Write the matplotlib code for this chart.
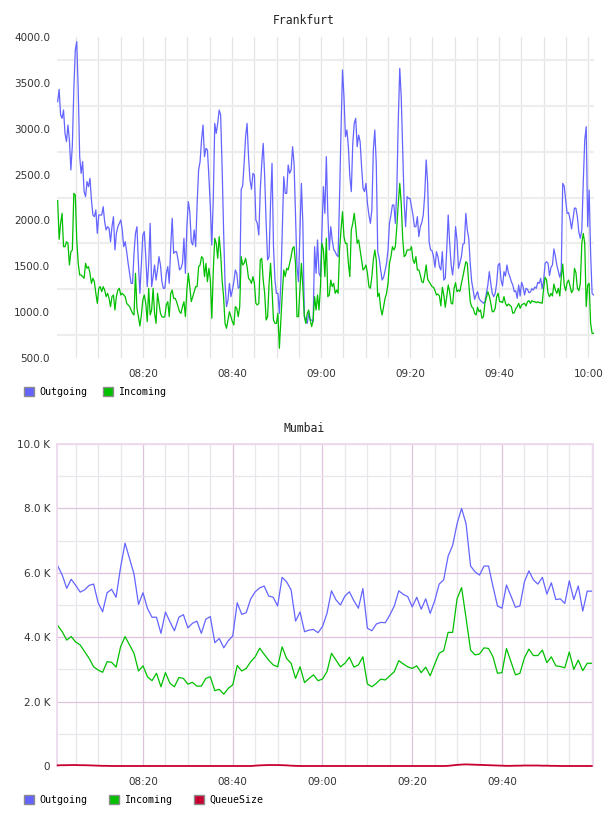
import numpy as np
import pandas as pd
import matplotlib
matplotlib.use("Agg")
import matplotlib.pyplot as plt
import matplotlib.dates as mdates
from matplotlib.patches import Patch
from matplotlib.ticker import FuncFormatter, MultipleLocator, FixedLocator

BLUE = "#6464ff"
GREEN = "#00c000"
RED = "#c80032"

# Frankfurt, ~20 s samples from 08:00:52 to 10:01:11
fra_out = [
    3295, 3429, 3149, 3113, 3204, 2949, 2859, 3040, 2877, 2550,
    2822, 3422, 3858, 3949, 3422, 2695, 2513, 2641, 2314, 2259,
    2423, 2368, 2459, 2223, 2059, 2041, 2114, 1859, 2059, 2059,
    2059, 2150, 1986, 1896, 1932, 1914, 1768, 1932, 2041, 1678,
    1859, 1932, 1968, 2005, 1896, 1714, 1768, 1659, 1532, 1423,
    1314, 1314, 1641, 1859, 1932, 1532, 1205, 1532, 1841, 1877,
    1605, 1278, 1532, 1968, 1278, 1387, 1514, 1350, 1460, 1605,
    1514, 1332, 1260, 1260, 1423, 1496, 1314, 1714, 2023, 1641,
    1659, 1659, 1569, 1460, 1478, 1532, 1805, 1423, 1932, 2205,
    2095, 1768, 1732, 1896, 1714, 2186, 2550, 2641, 2877, 3040,
    2695, 2786, 2768, 2477, 2150, 1732, 2241, 3058, 2949, 3058,
    3204, 3149, 2586, 1896, 1314, 1060, 1132, 1314, 1169, 1241,
    1332, 1460, 1423, 1260,
    1278, 2339, 2375, 2622, 2913, 3058, 2695, 2441, 2339, 2513,
    2495, 2005, 1968, 1841, 2332, 2622, 2840, 2477, 1968, 1569,
    1605, 2186, 2622, 1714, 1350, 1205, 1205, 987, 1314, 1896,
    2477, 2295, 2295, 2604, 2513, 2550, 2804, 2622, 2041, 1496,
    1332, 1859, 2404, 1968, 969, 896, 878, 987, 914, 914,
    896, 1714, 1423, 1787, 1423, 1387, 1896, 2368, 2077, 2695,
    2077, 1678, 1932, 1787, 1685, 1659, 1623, 1605, 2259, 2986,
    3640, 3349, 2913, 2986, 2804, 2477, 2314, 2840, 3058, 3113,
    2804, 2931, 2859, 2586, 2350, 2314, 2404, 2186, 2059, 1968,
    2114, 2768, 2986, 2622, 1659, 1587, 1460, 1350, 1380, 1452,
    1532, 1678, 1968, 2059, 2168, 2168, 1968, 2332, 3095, 3658,
    3349, 2768, 2186, 1932, 2259, 2241, 2241, 2150, 2059, 1932,
    1932, 2041,
    1823, 1932, 1976, 2059, 2277, 2659, 2404, 1768, 1678, 1670,
    1605, 1489, 1659, 1605, 1496, 1460, 1659, 1350, 1369, 1678,
    2059, 1750, 1514, 1405, 1569, 1932, 1787, 1478, 1540, 1605,
    1743, 1750, 2077, 1896, 1805, 1532, 1332, 1241, 1140, 1187,
    1223, 1151, 1125, 1114, 1096, 1114, 1205, 1296, 1441, 1314,
    1205, 1169, 1205, 1314, 1514, 1532, 1350, 1285, 1441, 1394,
    1514, 1430, 1387, 1332, 1296, 1223, 1234, 1151, 1296, 1176,
    1325, 1278, 1187, 1260, 1249, 1212, 1220, 1256, 1241, 1274,
    1260, 1325, 1314, 1369, 1256, 1343, 1532, 1550, 1532, 1398,
    1489, 1514, 1689, 1612, 1511, 1445, 1380, 1452, 2404, 2375,
    2223, 2077, 2085, 2012, 1907, 2016, 2136, 2132, 2034, 1870,
    1805, 1896, 2423, 2877, 3022, 1932, 2332, 1641, 1205, 1187,
]
fra_in = [
    2215, 1794, 1968, 2077, 1714, 1714, 1768, 1750, 1514, 1659,
    1678, 2295, 2277, 1787, 1532, 1405, 1405, 1387, 1369, 1532,
    1478, 1496, 1423, 1314, 1369, 1332, 1205, 1096, 1260, 1278,
    1223, 1278, 1241, 1169, 1205, 1151, 1060, 1169, 1187, 1023,
    1169, 1241, 1260, 1187, 1205, 1187, 1169, 1096, 1078, 1060,
    1023, 987, 969, 1423, 1042, 951, 849, 969, 1132, 1187,
    1096, 896, 1260, 969, 1023, 1260, 987, 878, 1205, 1096,
    987, 951, 944, 951, 1078, 1114, 951, 1205, 1241, 1151,
    1151, 1114, 1060, 1005, 987, 1060, 1114, 951, 1241, 1423,
    1278, 1114, 1169, 1223, 1278, 1278, 1496, 1514, 1605, 1587,
    1387, 1532, 1332, 1478, 1350, 933, 1460, 1805, 1750, 1587,
    1823, 1641, 1350, 1169, 878, 824, 914, 1005, 951, 896,
    860, 1060, 1042, 951,
    1060, 1605, 1514, 1532, 1587, 1496, 1369, 1350, 1314, 1387,
    1314, 1096, 1078, 1096, 1569, 1587, 1350, 1205, 914, 951,
    1314, 1532, 1241, 914, 878, 878, 987, 606, 914, 1205,
    1460, 1387, 1478, 1460, 1532, 1605, 1696, 1714, 1532, 951,
    951, 1241, 1532, 1278, 951, 878, 987, 1023, 914, 842,
    914, 1169, 1023, 1187, 1023, 1278, 1750, 1678, 1387, 1805,
    1169, 1187, 1350, 1278, 1314, 1205, 1241, 1205, 1678, 1896,
    2095, 1823, 1750, 1750, 1532, 1387, 1896, 1968, 2077, 1932,
    1750, 1787, 1678, 1569, 1460, 1478, 1514, 1423, 1278, 1260,
    1387, 1569, 1678, 1569, 1169, 1205, 1042, 969, 1060, 1151,
    1205, 1314, 1532, 1605, 1714, 1678, 1714, 1932, 2186, 2404,
    2186, 1805, 1605, 1623, 1678, 1678, 1678, 1714, 1569, 1532,
    1605, 1460,
    1460, 1405, 1332, 1321, 1405, 1514, 1358, 1332, 1307, 1278,
    1271, 1234, 1187, 1198, 1176, 1067, 1271, 1187, 1053, 1169,
    1296, 1223, 1096, 1089, 1260, 1321, 1223, 1241, 1227, 1314,
    1387, 1467, 1550, 1532, 1314, 1114, 1060, 1042, 987, 969,
    1053, 1005, 1023, 933, 951, 1096, 1162, 1223, 1176, 1096,
    1005, 1005, 1042, 1169, 1205, 1114, 1114, 1103, 1169, 1096,
    1067, 1089, 1074, 1060, 987, 994, 1038, 1060, 1096, 1042,
    1078, 1089, 1096, 1067, 1114, 1125, 1096, 1125, 1114, 1114,
    1103, 1114, 1103, 1103, 1096, 1260, 1380, 1350, 1205, 1169,
    1205, 1176, 1307, 1241, 1205, 1260, 1176, 1380, 1525, 1296,
    1234, 1321, 1350, 1285, 1212, 1241, 1478, 1430, 1260, 1234,
    1314, 1750, 1859, 1750, 1060, 1296, 1314, 878, 769, 769,
]

# Mumbai, 1 min samples from 08:01 to 10:00
mum_out = [
    6210, 5930, 5520, 5800, 5610, 5400, 5470, 5610, 5650, 5070,
    4790, 5380, 5490, 5240, 6170, 6920, 6440, 5960, 5020, 5380,
    4890, 4620, 4620, 4120, 4780, 4480, 4200, 4620, 4700, 4290,
    4430, 4500, 4120, 4560, 4640, 3830, 3960, 3670, 3890, 4040,
    5070, 4710, 4760, 5190, 5410, 5530, 5590, 5280, 5240, 4970,
    5860, 5720, 5470, 4500, 4780, 4170, 4220, 4240, 4140, 4330,
    4740, 5440, 5160, 5000, 5280, 5410, 5130, 4900, 5510, 4280,
    4200, 4410, 4460, 4450, 4690, 4970, 5440, 5330, 5260, 4940,
    5240, 4870, 5190, 4740, 5130, 5650, 5780, 6520, 6850, 7530,
    8000, 7520, 6210, 6030, 5930, 6210, 6210, 5570, 4970, 4900,
    5620, 5280, 4930, 4970, 5720, 6060, 5780, 5650, 5860, 5340,
    5690, 5170, 5190, 5050, 5750, 5170, 5590, 4810, 5430, 5430,
]
mum_in = [
    4360, 4170, 3910, 4020, 3850, 3760, 3550, 3340, 3080, 2980,
    2910, 3240, 3220, 3070, 3700, 4020, 3760, 3500, 2950, 3110,
    2770, 2650, 2880, 2460, 2900, 2570, 2460, 2750, 2720, 2540,
    2600, 2480, 2480, 2720, 2770, 2340, 2380, 2230, 2410, 2520,
    3120, 2950, 3030, 3240, 3390, 3660, 3470, 3290, 3140, 3080,
    3700, 3340, 3190, 2720, 3080, 2590, 2720, 2830, 2650, 2700,
    2930, 3500, 3290, 3080, 3190, 3380, 3070, 3140, 3390, 2550,
    2460, 2570, 2700, 2670, 2800, 2930, 3270, 3170, 3080, 3030,
    3110, 2900, 3070, 2800, 3160, 3500, 3580, 4150, 4150, 5200,
    5540, 4590, 3600, 3450, 3480, 3670, 3650, 3390, 2880, 2900,
    3650, 3240, 2830, 2880, 3360, 3630, 3430, 3430, 3600, 3210,
    3390, 3110, 3090, 3050, 3540, 3000, 3290, 2960, 3190, 3190,
]
mum_queue = [
    20, 25, 25, 30, 30, 25, 25, 20, 15, 10,
    5, 5, 0, 0, 0, 0, 0, 0, 0, 0,
    0, 0, 0, 0, 0, 0, 0, 0, 0, 0,
    0, 0, 0, 0, 0, 0, 0, 0, 0, 0,
    0, 0, 0, 0, 10, 20, 25, 30, 30, 30,
    25, 20, 10, 5, 0, 0, 0, 0, 0, 0,
    0, 0, 0, 0, 0, 0, 0, 0, 0, 0,
    0, 0, 0, 0, 0, 0, 0, 0, 0, 0,
    0, 0, 0, 0, 0, 0, 0, 5, 20, 35,
    45, 50, 45, 40, 35, 30, 25, 20, 15, 10,
    5, 5, 10, 10, 15, 15, 15, 15, 10, 10,
    5, 5, 0, 0, 0, 0, 0, 0, 0, 0,
]

day = "2024-01-01 "
fra_time = pd.date_range(day + "08:00:52", day + "10:01:11", periods=len(fra_out))
mum_time = pd.date_range(day + "08:01", periods=len(mum_out), freq="1min")

W, H = 608, 816
fig = plt.figure(figsize=(W / 100, H / 100), dpi=100)
tick_font = {"family": "DejaVu Sans", "size": 7.5}
mono = {"family": "DejaVu Sans Mono", "size": 7.2}

# ---- Frankfurt ----
ax1 = fig.add_axes([57 / W, 1 - 358 / H, 537 / W, 321 / H])
ax1.plot(fra_time, fra_out, color=BLUE, lw=0.9)
ax1.plot(fra_time, fra_in, color=GREEN, lw=0.9)
ax1.set_xlim(pd.Timestamp(day + "08:00:43"), pd.Timestamp(day + "10:01:17"))
ax1.set_ylim(500, 4000)
ax1.yaxis.set_major_locator(MultipleLocator(500))
ax1.yaxis.set_minor_locator(FixedLocator([750, 1250, 1750, 2250, 2750, 3250, 3750]))
ax1.yaxis.set_major_formatter(FuncFormatter(lambda v, p: "%.1f" % v))
ax1.xaxis.set_major_locator(mdates.MinuteLocator(byminute=[0, 20, 40]))
ax1.xaxis.set_minor_locator(mdates.MinuteLocator(byminute=range(0, 60, 5)))
ax1.xaxis.set_major_formatter(mdates.DateFormatter("%H:%M"))
ax1.grid(which="minor", axis="y", color="#ededed", lw=1.6)
ax1.grid(which="both", axis="x", color="#e4e4e4", lw=0.9)
ax1.set_axisbelow(True)
for s in ax1.spines.values():
    s.set_visible(False)
ax1.tick_params(axis="y", which="both", length=0, pad=5, labelcolor="#333333")
ax1.tick_params(axis="x", which="both", length=0, pad=8, labelcolor="#333333")
for lab in ax1.get_xticklabels() + ax1.get_yticklabels():
    lab.set_fontfamily(tick_font["family"])
    lab.set_fontsize(tick_font["size"])

fig.text(0.5, 1 - 20 / H, "Frankfurt", ha="center", va="center",
         family="DejaVu Sans Mono", size=8.3, color="#222222")
fig.legend(handles=[Patch(facecolor=BLUE, edgecolor="#8c8c8c", label="Outgoing"),
                    Patch(facecolor=GREEN, edgecolor="#8c8c8c", label="Incoming")],
           loc="center left", bbox_to_anchor=(24 / W, 1 - 392 / H), ncol=2,
           frameon=False, prop=mono, handlelength=1.0, handleheight=1.0,
           handletextpad=0.5, columnspacing=1.6, borderpad=0, borderaxespad=0)


# ---- Mumbai ----
def mum_label(v, p):
    t = mdates.num2date(v)
    if t.hour == 10:
        return ""
    return t.strftime("%H:%M")


ax2 = fig.add_axes([57 / W, 1 - 766 / H, 536 / W, 322 / H])
ax2.plot(mum_time, mum_out, color=BLUE, lw=0.9)
ax2.plot(mum_time, mum_in, color=GREEN, lw=0.9)
ax2.plot(mum_time, mum_queue, color=RED, lw=1.3, clip_on=False, zorder=5)
ax2.set_xlim(pd.Timestamp(day + "08:00:50"), pd.Timestamp(day + "10:00:17"))
ax2.set_ylim(0, 10000)
ax2.yaxis.set_major_locator(MultipleLocator(2000))
ax2.yaxis.set_minor_locator(MultipleLocator(1000))
ax2.yaxis.set_major_formatter(FuncFormatter(lambda v, p: "0" if v == 0 else "%.1f K" % (v / 1000)))
ax2.xaxis.set_major_locator(mdates.MinuteLocator(byminute=[0, 20, 40]))
ax2.xaxis.set_minor_locator(mdates.MinuteLocator(byminute=range(0, 60, 5)))
ax2.xaxis.set_major_formatter(FuncFormatter(mum_label))
ax2.grid(which="major", color="#dcc4dc", lw=0.9)
ax2.grid(which="minor", color="#ebe5ee", lw=0.9)
ax2.set_axisbelow(True)
for side in ["top", "left", "right"]:
    ax2.spines[side].set_color("#eedcee")
    ax2.spines[side].set_linewidth(1.4)
ax2.spines["bottom"].set_visible(False)
ax2.tick_params(axis="y", which="both", length=0, pad=5, labelcolor="#333333")
ax2.tick_params(axis="x", which="both", length=0, pad=8, labelcolor="#333333")
for lab in ax2.get_xticklabels() + ax2.get_yticklabels():
    lab.set_fontfamily(tick_font["family"])
    lab.set_fontsize(tick_font["size"])

fig.text(0.5, 1 - 429 / H, "Mumbai", ha="center", va="center",
         family="DejaVu Sans Mono", size=8.3, color="#222222")
fig.legend(handles=[Patch(facecolor=BLUE, edgecolor="#8c8c8c", label="Outgoing"),
                    Patch(facecolor=GREEN, edgecolor="#8c8c8c", label="Incoming"),
                    Patch(facecolor=RED, edgecolor="#8c8c8c", label="QueueSize")],
           loc="center left", bbox_to_anchor=(24 / W, 1 - 800 / H), ncol=3,
           frameon=False, prop=mono, handlelength=1.0, handleheight=1.0,
           handletextpad=0.5, columnspacing=2.2, borderpad=0, borderaxespad=0)

fig.savefig("out.png", dpi=100, facecolor="white")
